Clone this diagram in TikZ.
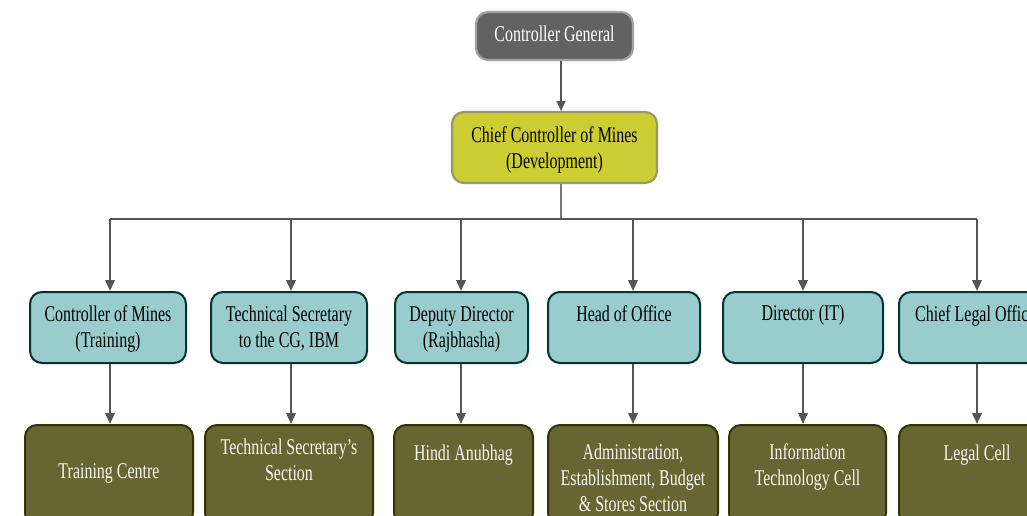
\documentclass[tikz,border=0pt]{standalone}
\usepackage{fontspec}
\setmainfont[FakeStretch=0.71]{Liberation Serif}
\usetikzlibrary{arrows.meta}
\definecolor{cgfill}{HTML}{626262}
\definecolor{cgline}{HTML}{A3A3A3}
\definecolor{ccfill}{HTML}{CCCC33}
\definecolor{ccline}{HTML}{999966}
\definecolor{tlfill}{HTML}{99CCCC}
\definecolor{tlline}{HTML}{003333}
\definecolor{olfill}{HTML}{666633}
\definecolor{olline}{HTML}{333300}
\definecolor{conn}{HTML}{555555}
\begin{document}
\begin{tikzpicture}[x=1pt,y=-1pt,
  box/.style={rounded corners=12pt, line width=2pt, inner sep=0pt},
  topbox/.style={box, draw=cgline, fill=cgfill, line width=2.2pt},
  ccbox/.style={box, draw=ccline, fill=ccfill, line width=2.2pt},
  midbox/.style={box, draw=tlline, fill=tlfill, minimum height=71pt},
  lowbox/.style={box, draw=olline, fill=olfill, minimum height=100pt},
  txt/.style={inner sep=0pt, align=center, font=\fontsize{22.5}{26}\selectfont},
  wtxt/.style={txt, text=white},
  ltxt/.style={txt, text=white!94!olfill},
  arr/.style={draw=conn, line width=2pt, -{Triangle[length=11pt,width=9.5pt]}},
  thin/.style={draw=conn!80, line width=1.2pt},
]
\useasboundingbox (0,0) rectangle (1027,515);
\clip (0,0) rectangle (1027,515);
\fill[white] (0,0) rectangle (1027,515);

% top levels
\node[topbox, minimum width=157pt, minimum height=48pt] (cg) at (554.5,36) {};
\node[wtxt] (cgt) at (554.5,36.5) {\strut Controller General};
\node[ccbox, minimum width=205pt, minimum height=71pt] (cc) at (554.5,147.5) {};
\node[txt] (cct) at (554.5,150) {\strut Chief Controller of Mines\\\strut (Development)};

% second level
\node[midbox, minimum width=156pt] (b1) at (108,327.5) {};
\node[midbox, minimum width=156pt] (b2) at (289,327.5) {};
\node[midbox, minimum width=133pt] (b3) at (461.5,327.5) {};
\node[midbox, minimum width=152pt] (b4) at (624,327.5) {};
\node[midbox, minimum width=160pt] (b5) at (803,327.5) {};
\node[midbox, minimum width=158pt] (b6) at (978,327.5) {};
\node[txt] (b1t) at (108,329.5) {\strut Controller of Mines\\\strut (Training)};
\node[txt] (b2t) at (289,329.5) {\strut Technical Secretary\\\strut to the CG, IBM};
\node[txt] (b3t) at (461.5,329.5) {\strut Deputy Director\\\strut (Rajbhasha)};
\node[txt] (b4t) at (624,316.5) {\strut Head of Office};
\node[txt] (b5t) at (803,315.5) {\strut Director (IT)};
\node[txt] (b6t) at (978,316.5) {\strut Chief Legal Officer};

% third level
\node[lowbox, minimum width=168pt] (c1) at (109,475) {};
\node[lowbox, minimum width=168pt] (c2) at (289,475) {};
\node[lowbox, minimum width=139pt] (c3) at (463.5,475) {};
\node[lowbox, minimum width=170pt] (c4) at (633,475) {};
\node[lowbox, minimum width=157pt] (c5) at (807.5,475) {};
\node[lowbox, minimum width=158pt] (c6) at (978,475) {};
\node[ltxt] (c1t) at (109,473.5) {\strut Training Centre};
\node[ltxt] (c2t) at (289,462.5) {\strut Technical Secretary’s\\\strut Section};
\node[ltxt] (c3t) at (463.5,455.5) {\strut Hindi Anubhag};
\node[ltxt] (c4t) at (633,480.5) {\strut Administration,\\\strut Establishment, Budget\\\strut \& Stores Section};
\node[ltxt] (c5t) at (807.5,467.5) {\strut Information\\\strut Technology Cell};
\node[ltxt] (c6t) at (977,455) {\strut Legal Cell};

% connectors
\coordinate (top) at (561,0);
\coordinate (hub) at (561,219);
\coordinate (j1) at (110,219);
\coordinate (j2) at (291,219);
\coordinate (j3) at (461,219);
\coordinate (j4) at (633,219);
\coordinate (j5) at (803,219);
\coordinate (j6) at (977,219);

\draw[draw=conn, line width=1.5pt, -{Triangle[length=10pt,width=9pt]}] (top |- cg.south) -- (top |- cc.north);
\draw[thin] (top |- cc.south) -- (hub);
\draw[draw=conn, line width=2pt] (j1) -- (j6);
\foreach \i in {1,...,6}{
  \draw[arr] (j\i) -- (j\i |- b\i.north);
  \draw[arr] (j\i |- b\i.south) -- (j\i |- c\i.north);
}
\end{tikzpicture}
\end{document}
